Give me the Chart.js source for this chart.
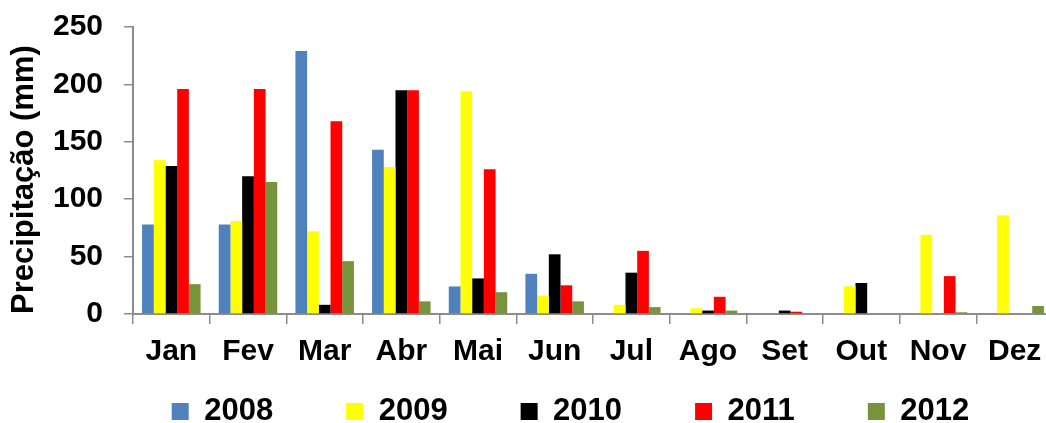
<!DOCTYPE html>
<html>
<head>
<meta charset="utf-8">
<script src="https://cdn.jsdelivr.net/npm/chart.js@4/dist/chart.umd.min.js"></script>
<style>
  html, body { margin: 0; padding: 0; background: #fff; overflow: hidden; }
</style>
</head>
<body>
<canvas id="myChart" width="1053" height="423"></canvas>
<script>
const meses = ['Jan', 'Fev', 'Mar', 'Abr', 'Mai', 'Jun', 'Jul', 'Ago', 'Set', 'Out', 'Nov', 'Dez'];
const anos = ['2008', '2009', '2010', '2011', '2012'];
const p2008 = [78, 78, 229, 143, 24, 35, 0, 0, 0, 0, 0, 0];
const p2009 = [134, 81, 72, 128, 194, 16, 8, 5, 0, 24, 69, 86];
const p2010 = [129, 120, 8, 195, 31, 52, 36, 3, 3, 27, 0, 0];
const p2011 = [196, 196, 168, 195, 126, 25, 55, 15, 2, 0, 33, 0];
const p2012 = [26, 115, 46, 11, 19, 11, 6, 3, 0, 0, 1.5, 7];
const yTicks = [0, 50, 100, 150, 200, 250];

const cores = ['#4F81BD', '#FFFF00', '#000000', '#FF0000', '#77933C'];
const series = [p2008, p2009, p2010, p2011, p2012];
const fonte = '"Liberation Sans", Arial, sans-serif';

// legend items are spaced far apart: move the legend box after layout
const legendPlace = {
  id: 'legendPlace',
  afterLayout(chart) {
    const lg = chart.legend;
    const pad = lg.options.labels.padding;
    lg.top += 26 - pad;
    lg.left += 44;
    lg.right += 44;
  }
};

const ctx = document.getElementById('myChart').getContext('2d');

const data = {
  labels: meses,
  datasets: anos.map((ano, i) => ({
    label: ano,
    data: series[i],
    backgroundColor: cores[i],
    borderWidth: 0,
    categoryPercentage: 0.763,
    barPercentage: 1
  }))
};

const config = {
  type: 'bar',
  data: data,
  options: {
    responsive: false,
    animation: false,
    layout: { padding: { top: 27, left: 0, right: 0, bottom: 0 } },
    plugins: {
      tooltip: { enabled: false },
      legend: {
        position: 'bottom',
        maxHeight: 53,
        labels: {
          boxWidth: 17,
          boxHeight: 17,
          padding: 73,
          color: '#000',
          font: { family: fonte, size: 31, weight: 'bold' }
        }
      }
    },
    scales: {
      x: {
        afterFit(scale) { scale.height = 56; },
        grid: {
          display: true,
          offset: true,
          drawOnChartArea: false,
          drawTicks: true,
          tickLength: 10,
          tickColor: '#8c8c8c',
          lineWidth: 1.5
        },
        border: { display: true, color: '#8c8c8c', width: 2 },
        ticks: {
          color: '#000',
          padding: 10,
          maxRotation: 0,
          font: { family: fonte, size: 30, weight: 'bold' }
        }
      },
      y: {
        min: 0,
        max: 250,
        afterFit(scale) {
          scale.width = 133;
          scale.paddingTop = 0;
          scale.paddingBottom = 0;
        },
        afterBuildTicks(scale) { scale.ticks = yTicks.map(v => ({ value: v })); },
        grid: {
          display: true,
          drawOnChartArea: false,
          drawTicks: true,
          tickLength: 9,
          tickColor: '#8c8c8c',
          lineWidth: 1.5
        },
        border: { display: true, color: '#8c8c8c', width: 2 },
        ticks: {
          color: '#000',
          padding: 21,
          font: { family: fonte, size: 30, weight: 'bold' }
        },
        title: {
          display: true,
          text: 'Precipitação (mm)',
          align: 'start',
          color: '#000',
          padding: { top: 6, bottom: 0 },
          font: { family: fonte, size: 31, weight: 'bold' }
        }
      }
    }
  },
  plugins: [legendPlace]
};

const myChart = new Chart(ctx, config);
</script>
</body>
</html>
